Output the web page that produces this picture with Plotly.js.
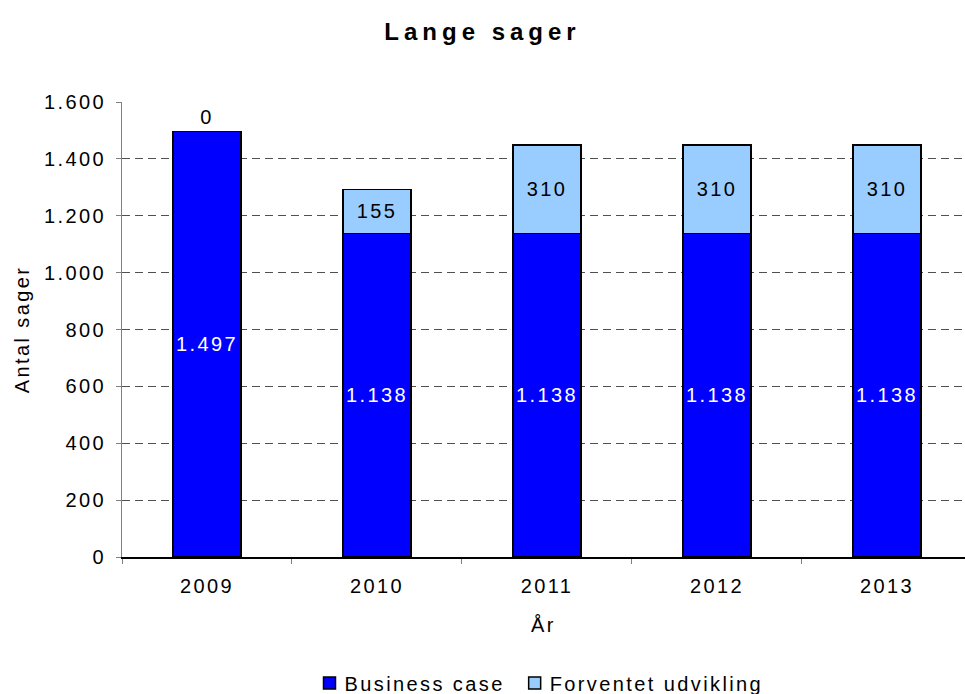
<!DOCTYPE html>
<html>
<head>
<meta charset="utf-8">
<script src="https://cdn.plot.ly/plotly-3.0.1.min.js"></script>
<style>
body { margin: 0; padding: 0; background: #fff; }
#chart { width: 965px; height: 694px; }
.gtitle { letter-spacing: 5px; }
.xtick text, .ytick text, .bartext, .legendtext, .ytitle, .xtitle { letter-spacing: 2.4px; }
.legendsymbols { transform: translateX(5px); }
</style>
</head>
<body>
<div id="chart"></div>
<script>
var years = ['2009', '2010', '2011', '2012', '2013'];
var businessCase = [1497, 1138, 1138, 1138, 1138];
var forventet = [0, 155, 310, 310, 310];
var seriesNames = ['Business case', 'Forventet udvikling'];
var yTicks = [0, 200, 400, 600, 800, 1000, 1200, 1400, 1600];

var fontFam = '"Liberation Sans", Arial, sans-serif';
var fs = 20;

var traces = [
  {
    type: 'bar',
    name: seriesNames[0],
    x: years,
    y: businessCase,
    marker: { color: '#0000FF', line: { color: '#000000', width: 1.5 } },
    texttemplate: '%{y:,d}',
    textposition: 'inside',
    insidetextanchor: 'middle',
    textangle: 0,
    constraintext: 'none',
    textfont: { color: '#FFFFFF', size: fs, family: fontFam },
    hoverinfo: 'none'
  },
  {
    type: 'bar',
    name: seriesNames[1],
    x: years,
    y: forventet,
    marker: { color: '#99CCFF', line: { color: '#000000', width: 1.5 } },
    texttemplate: '%{y:,d}',
    textposition: ['outside', 'inside', 'inside', 'inside', 'inside'],
    insidetextanchor: 'middle',
    textangle: 0,
    constraintext: 'none',
    cliponaxis: false,
    textfont: { color: '#000000', size: fs, family: fontFam },
    hoverinfo: 'none'
  }
];

var layout = {
  width: 965,
  height: 694,
  separators: ',.',
  barmode: 'stack',
  bargap: 0.6,
  paper_bgcolor: '#FFFFFF',
  plot_bgcolor: '#FFFFFF',
  font: { family: fontFam, size: fs, color: '#000000' },
  margin: { l: 122, r: 0, t: 102, b: 137, autoexpand: false },
  title: {
    text: '<b>Lange sager</b>',
    font: { size: 24, family: fontFam, color: '#000000' },
    x: 0.5, xref: 'container', xanchor: 'center',
    y: 1 - 32 / 694, yref: 'container', yanchor: 'middle'
  },
  xaxis: {
    type: 'category',
    range: [-0.5, 4.459],
    tickson: 'boundaries',
    ticks: 'outside',
    ticklen: 5,
    tickcolor: '#808080',
    showline: true,
    linecolor: '#000000',
    linewidth: 1.5,
    showgrid: false,
    zeroline: false,
    tickfont: { size: fs },
    ticklabelstandoff: 10,
    title: { text: 'År', font: { size: fs }, standoff: 22 },
    automargin: false
  },
  yaxis: {
    range: [0, 1600],
    tickvals: yTicks,
    tickformat: ',d',
    ticks: 'outside',
    ticklen: 5,
    tickcolor: '#808080',
    showline: true,
    linecolor: '#808080',
    linewidth: 1,
    showgrid: true,
    gridcolor: '#505050',
    griddash: '8px,5px',
    gridwidth: 1,
    zeroline: false,
    tickfont: { size: fs },
    ticklabelstandoff: 6,
    title: { text: 'Antal sager', font: { size: fs }, standoff: 8 },
    automargin: false
  },
  showlegend: true,
  legend: {
    orientation: 'h',
    xref: 'container', x: 536.5 / 965, xanchor: 'center',
    yref: 'container', y: 1 - 683 / 694, yanchor: 'middle',
    font: { size: fs },
    itemwidth: 30,
    traceorder: 'normal'
  }
};

Plotly.newPlot('chart', traces, layout, { displayModeBar: false, staticPlot: true });
</script>
</body>
</html>
